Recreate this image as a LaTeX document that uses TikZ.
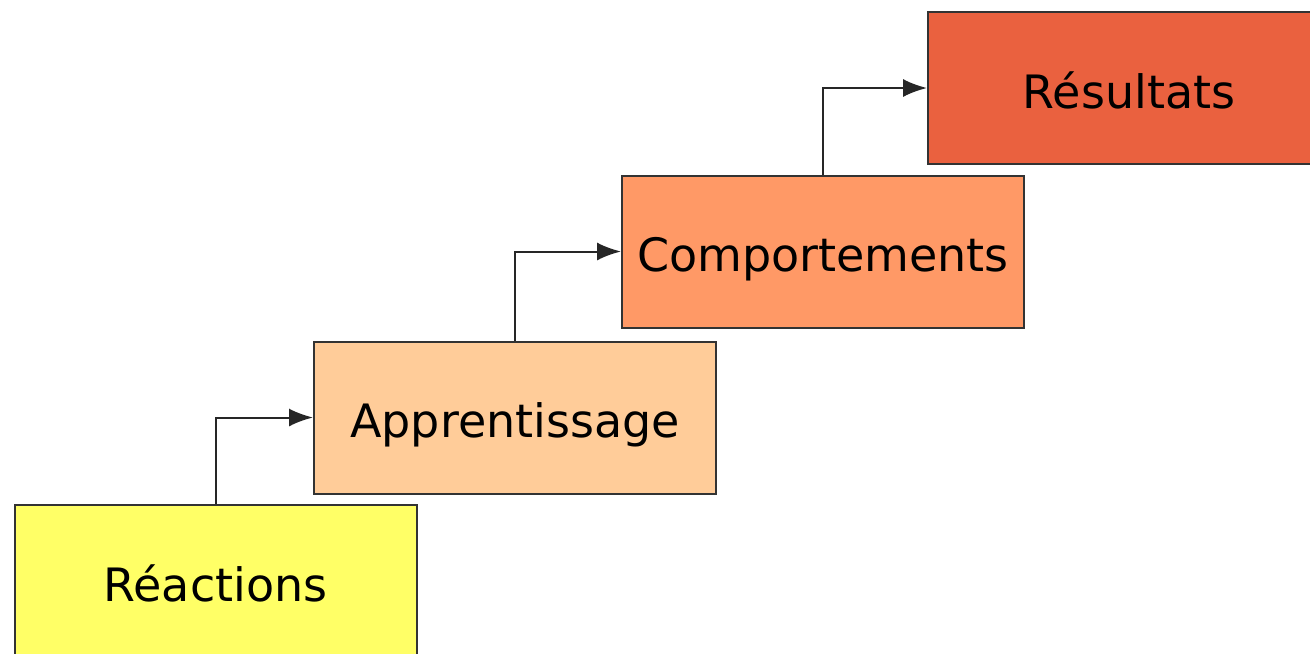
\documentclass[tikz,border=0pt]{standalone}
\usepackage{fontspec}
\setmainfont{DejaVu Sans}
\usetikzlibrary{arrows.meta}

\definecolor{reaccol}{HTML}{FFFF66}
\definecolor{apprcol}{HTML}{FFCC99}
\definecolor{compcol}{HTML}{FF9966}
\definecolor{resucol}{HTML}{EA613F}

\tikzset{
  stage/.style={draw=black!80, line width=1pt, minimum width=201pt, minimum height=76pt,
    inner sep=0pt, text height=20pt, text depth=0pt, font=\fontsize{23}{27}\selectfont},
  stepline/.style={black!85, line width=1pt, -{Latex[length=12pt,width=9pt]}}
}

\begin{document}
\begin{tikzpicture}[x=0.5pt, y=-0.5pt]
  \useasboundingbox (0,0) rectangle (1310,653);
  \clip (0,0) rectangle (1310,653);

  \node[stage, fill=reaccol] (reac) at (215.5, 581) {Réactions};
  \node[stage, fill=apprcol] (appr) at (515, 417.5) {Apprentissage};
  \node[stage, fill=compcol] (comp) at (823, 251.5) {Comportements};
  \node[stage, fill=resucol] (resu) at (1129, 88) {Résultats};

  \draw[stepline] (reac.north) |- (appr.west);
  \draw[stepline] (appr.north) |- (comp.west);
  \draw[stepline] (comp.north) |- (resu.west);
\end{tikzpicture}
\end{document}
